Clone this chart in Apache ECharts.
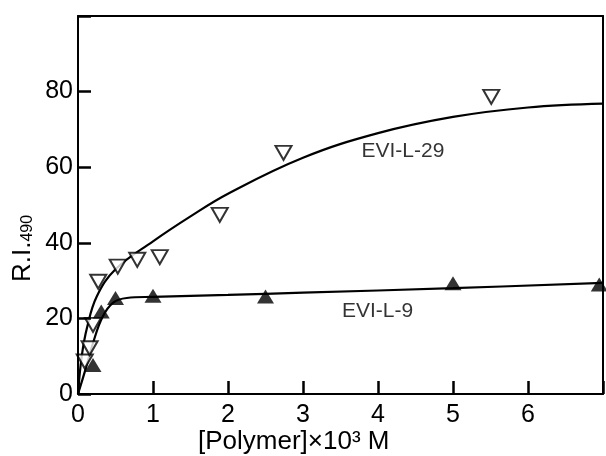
<!DOCTYPE html>
<html>
<head>
<meta charset="utf-8">
<script src="https://cdn.jsdelivr.net/npm/echarts@6/dist/echarts.min.js"></script>
<style>
  html, body { margin: 0; padding: 0; background: #fff; }
  #chart { width: 606px; height: 456px; }
</style>
</head>
<body>
<div id="chart"></div>
<script>
// Measured points: EVI-L-9 (filled up-triangles)
const evi9X = [0.2, 0.31, 0.5, 1.0, 2.5, 5.0, 6.95];
const evi9Y = [7.7, 21.8, 25.4, 26.0, 25.8, 29.3, 29.0];

// Measured points: EVI-L-29 (open down-triangles)
const evi29X = [0.09, 0.155, 0.2, 0.27, 0.53, 0.79, 1.09, 1.89, 2.74, 5.51];
const evi29Y = [8.6, 12.1, 18.3, 29.7, 33.7, 35.5, 36.2, 47.4, 63.8, 78.6];

// Drawn trend curves
const curve29X = [0, 0.05, 0.12, 0.25, 0.5, 1.0, 1.5, 2.0, 3.0, 4.0, 5.0, 6.0, 7.0];
const curve29Y = [0, 10, 17.5, 25.8, 33, 40.4, 47, 53, 62.5, 69, 73.3, 75.8, 76.8];
const curve9X = [0, 0.1, 0.2, 0.33, 0.47, 0.65, 1.0, 2.0, 3.0, 5.0, 7.0];
const curve9Y = [0, 6.5, 13.5, 20.5, 24.2, 25.4, 25.7, 26.2, 26.8, 28, 29.4];

// Curve names and where they are written
const curveNames = ['EVI-L-29', 'EVI-L-9'];
const curveNameAt = [[3.78, 64.1], [3.52, 22]];

// Axis ticks
const xTicks = [0, 1, 2, 3, 4, 5, 6];
const yTicks = [0, 20, 40, 60, 80];

const zip = (xs, ys) => xs.map((x, i) => [x, ys[i]]);
const FONT = 'Liberation Sans';
const black = { color: '#000', width: 2 };
const tickStyle = { show: true, inside: true, length: 13, lineStyle: { color: '#000', width: 2.5 } };

const chart = echarts.init(document.getElementById('chart'));

chart.setOption({
  animation: false,
  backgroundColor: '#fff',
  textStyle: { fontFamily: FONT },
  grid: { left: 78, right: 2, top: 16, bottom: 62, show: false },
  xAxis: [
    {
      type: 'value', min: 0, max: 7, interval: 1, position: 'bottom', z: 5,
      axisLine: { show: true, onZero: false, lineStyle: black },
      axisTick: tickStyle,
      splitLine: { show: false },
      axisLabel: {
        color: '#000', fontSize: 25, fontFamily: FONT, margin: 9,
        formatter: v => (xTicks.includes(v) ? String(v) : '')
      }
    },
    {
      // top frame line
      type: 'value', min: 0, max: 7, position: 'top', z: 5,
      axisLine: { show: true, onZero: false, lineStyle: black },
      axisTick: { show: false }, axisLabel: { show: false }, splitLine: { show: false }
    }
  ],
  yAxis: [
    {
      type: 'value', min: 0, max: 100, interval: 20, position: 'left', z: 5,
      axisLine: { show: true, onZero: false, lineStyle: black },
      axisTick: tickStyle,
      splitLine: { show: false },
      axisLabel: {
        color: '#000', fontSize: 25, fontFamily: FONT, margin: 5,
        formatter: v => (yTicks.includes(v) ? String(v) : '')
      }
    },
    {
      // right frame line
      type: 'value', min: 0, max: 100, position: 'right', z: 5,
      axisLine: { show: true, onZero: false, lineStyle: black },
      axisTick: { show: false }, axisLabel: { show: false }, splitLine: { show: false }
    }
  ],
  graphic: [
    {
      type: 'text', left: 198, top: 429,
      style: { text: '[Polymer]×10³ M', font: '26px "Liberation Sans"', fill: '#000' }
    },
    {
      type: 'text', x: 10, y: 282, rotation: Math.PI / 2,
      style: {
        text: '{a|R.I.}{b|490}',
        rich: {
          a: { fontSize: 26, fontFamily: FONT, fill: '#000', lineHeight: 26 },
          b: { fontSize: 16, fontFamily: FONT, fill: '#000', verticalAlign: 'bottom', lineHeight: 26 }
        }
      }
    }
  ],
  series: [
    {
      name: 'EVI-L-29 curve', type: 'line', data: zip(curve29X, curve29Y),
      smooth: 0.4, showSymbol: false,
      lineStyle: { color: '#000', width: 2.2 }, z: 2
    },
    {
      name: 'EVI-L-9 curve', type: 'line', data: zip(curve9X, curve9Y),
      smooth: 0.4, showSymbol: false,
      lineStyle: { color: '#000', width: 2.2 }, z: 2
    },
    {
      name: 'EVI-L-29', type: 'scatter', data: zip(evi29X, evi29Y),
      symbol: 'triangle', symbolRotate: 180, symbolSize: [16, 14],
      itemStyle: { color: '#fff', borderColor: '#000', borderWidth: 2 }, z: 3
    },
    {
      name: 'EVI-L-9', type: 'scatter', data: zip(evi9X, evi9Y),
      symbol: 'triangle', symbolSize: [17, 14],
      itemStyle: { color: '#000' }, z: 3
    },
    {
      name: 'names', type: 'scatter', symbolSize: 0, silent: true,
      data: curveNameAt.map((p, i) => ({ value: p, name: curveNames[i] })),
      label: {
        show: true, position: 'right', distance: 0, formatter: '{b}',
        color: '#000', fontSize: 21, fontFamily: FONT
      }
    }
  ]
});
</script>
</body>
</html>
